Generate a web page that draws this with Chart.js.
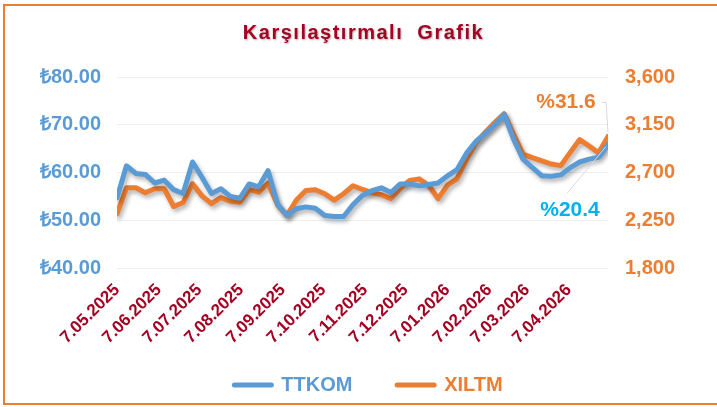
<!DOCTYPE html>
<html>
<head>
<meta charset="utf-8">
<script src="https://cdn.jsdelivr.net/npm/chart.js@4.4.1/dist/chart.umd.min.js"></script>
<style>
  html, body { margin: 0; padding: 0; background: #fff; }
  #wrap { position: relative; width: 717px; height: 407px; overflow: hidden; }
  #frame { position: absolute; left: 3px; top: 4px; width: 730px; height: 401px; border: 2px solid #ed7d31; box-sizing: border-box; }
  #chart { position: absolute; left: 0; top: 0; }
</style>
</head>
<body>
<div id="wrap">
  <div id="frame"></div>
  <canvas id="chart" width="717" height="407"></canvas>
</div>
<script>
const TITLE = "Karşılaştırmalı  Grafik";
const BLUE = "#5b9bd5";
const ORANGE = "#ed7d31";
const DARK_RED = "#a50021";

// weekly closes, 7.05.2025 -> 6.05.2026
const ttkom = [54.7, 61.4, 59.8, 59.6, 57.8, 58.4, 56.4, 55.6, 62.2, 59.0,
  55.6, 56.6, 55.0, 54.6, 57.6, 57.0, 60.4, 53.4, 51.0, 52.4,
  52.8, 52.5, 51.0, 50.8, 50.8, 53.3, 55.2, 56.2, 56.8, 55.8,
  57.6, 57.6, 57.2, 57.5, 57.8, 59.3, 60.6, 64.0, 66.5, 68.2,
  70.0, 72.2, 67.0, 62.8, 61.0, 59.3, 59.2, 59.5, 61.0, 62.2,
  62.8, 63.2, 65.86];
const xiltm = [2310, 2556, 2556, 2510, 2547, 2547, 2380, 2417, 2594, 2480,
  2407, 2463, 2430, 2420, 2540, 2515, 2600, 2395, 2296, 2440,
  2530, 2538, 2500, 2440, 2500, 2575, 2540, 2510, 2490, 2454,
  2550, 2625, 2640, 2580, 2454, 2580, 2640, 2820, 2980, 3080,
  3170, 3255, 3060, 2873, 2840, 2810, 2780, 2765, 2890, 3010,
  2950, 2885, 3040];

// monthly axis labels and their day offset from 7.05.2025
const monthLabels = ["7.05.2025", "7.06.2025", "7.07.2025", "7.08.2025", "7.09.2025", "7.10.2025",
  "7.11.2025", "7.12.2025", "7.01.2026", "7.02.2026", "7.03.2026", "7.04.2026"];
const monthDays = [0, 31, 61, 92, 123, 153, 184, 214, 245, 276, 304, 335];

const leftTicks = [40, 50, 60, 70, 80];
const rightTicks = [1800, 2250, 2700, 3150, 3600];

const toPoints = (arr) => arr.map((v, i) => ({ x: i * 7, y: v }));

function pctChange(arr) {
  return "%" + ((arr[arr.length - 1] / arr[0] - 1) * 100).toFixed(1);
}

// drop shadow under the two lines, like the office chart
const lineShadow = {
  id: "lineShadow",
  beforeDatasetsDraw(chart) {
    const ctx = chart.ctx;
    ctx.save();
    ctx.shadowColor = "rgba(0,0,0,0.3)";
    ctx.shadowBlur = 4;
    ctx.shadowOffsetX = 2;
    ctx.shadowOffsetY = 3;
  },
  afterDatasetsDraw(chart) {
    chart.ctx.restore();
  },
};

// wider spacing + soft shadow on the title text
const titleStyle = {
  id: "titleStyle",
  beforeDraw(chart) {
    const tb = chart.titleBlock;
    if (!tb || tb._styled) return;
    const orig = tb.draw;
    tb.draw = function () {
      const ctx = chart.ctx;
      ctx.save();
      ctx.letterSpacing = "1.5px";
      ctx.shadowColor = "rgba(0,0,0,0.3)";
      ctx.shadowBlur = 2;
      ctx.shadowOffsetX = 1;
      ctx.shadowOffsetY = 1;
      orig.apply(this, arguments);
      ctx.restore();
    };
    tb._styled = true;
  },
};

// legend sits a little right of the plot centre in the original
const legendNudge = {
  id: "legendNudge",
  afterLayout(chart) {
    const lg = chart.legend;
    if (!lg) return;
    lg.left += 6;
    lg.right += 6;
  },
};

// end-of-series change labels with leader lines
const endLabels = {
  id: "endLabels",
  afterDatasetsDraw(chart) {
    const ctx = chart.ctx;
    const blueEnd = chart.getDatasetMeta(0).data[ttkom.length - 1];
    const orangeEnd = chart.getDatasetMeta(1).data[xiltm.length - 1];
    ctx.save();
    ctx.font = "bold 21px 'Liberation Sans', Arial, sans-serif";
    ctx.textBaseline = "middle";
    ctx.textAlign = "center";
    ctx.strokeStyle = "#d9d9d9";
    ctx.lineWidth = 1;

    const ox = orangeEnd.x - 42, oy = orangeEnd.y - 34;
    ctx.beginPath();
    ctx.moveTo(ox + 36, oy);
    ctx.lineTo(orangeEnd.x - 2, oy);
    ctx.lineTo(orangeEnd.x, orangeEnd.y - 4);
    ctx.stroke();
    ctx.fillStyle = ORANGE;
    ctx.fillText(pctChange(xiltm), ox, oy);

    const bx = blueEnd.x - 38, by = blueEnd.y + 66;
    ctx.beginPath();
    ctx.moveTo(bx - 3, by - 17);
    ctx.lineTo(blueEnd.x - 2, blueEnd.y + 2);
    ctx.stroke();
    ctx.fillStyle = "#00b0f0";
    ctx.fillText(pctChange(ttkom), bx, by);
    ctx.restore();
  },
};

const tickFont = { family: "'Liberation Sans', Arial, sans-serif", size: 20, weight: "bold" };

new Chart(document.getElementById("chart"), {
  type: "line",
  data: {
    datasets: [
      {
        label: "TTKOM",
        data: toPoints(ttkom),
        borderColor: BLUE,
        backgroundColor: BLUE,
        borderWidth: 5,
        borderCapStyle: "round",
        borderJoinStyle: "round",
        pointRadius: 0,
        tension: 0,
        yAxisID: "y",
      },
      {
        label: "XILTM",
        data: toPoints(xiltm),
        borderColor: ORANGE,
        backgroundColor: ORANGE,
        borderWidth: 5,
        borderCapStyle: "round",
        borderJoinStyle: "round",
        pointRadius: 0,
        tension: 0,
        yAxisID: "y2",
      },
    ],
  },
  options: {
    responsive: false,
    animation: false,
    layout: { padding: { top: 0, left: 10, right: 0, bottom: 2 } },
    plugins: {
      tooltip: { enabled: false },
      title: {
        display: true,
        text: TITLE,
        color: DARK_RED,
        font: { family: "'Liberation Sans', Arial, sans-serif", size: 20, weight: "bold" },
        padding: { top: 21, bottom: 32 },
      },
      legend: {
        position: "bottom",
        fullSize: false,
        labels: {
          usePointStyle: true,
          pointStyle: "line",
          pointStyleWidth: 37,
          padding: 28,
          font: { family: "'Liberation Sans', Arial, sans-serif", size: 20, weight: "bold" },
          generateLabels(chart) {
            return chart.data.datasets.map((ds, i) => ({
              // trailing spaces widen the gap between the two entries
              text: i === 0 ? ds.label + "\u00a0\u00a0\u00a0" : ds.label,
              fillStyle: ds.borderColor,
              strokeStyle: ds.borderColor,
              fontColor: ds.borderColor,
              lineWidth: 5,
              lineCap: "round",
              pointStyle: "line",
              hidden: false,
              datasetIndex: i,
            }));
          },
        },
      },
    },
    scales: {
      x: {
        type: "linear",
        min: 0,
        max: 364,
        afterBuildTicks(scale) {
          scale.ticks = monthDays.map((d) => ({ value: d }));
        },
        afterFit(scale) {
          scale.height = 79;
        },
        grid: { display: false },
        border: { display: false },
        ticks: {
          autoSkip: false,
          minRotation: 45,
          maxRotation: 45,
          padding: 4,
          color: DARK_RED,
          font: { family: "'Liberation Sans', Arial, sans-serif", size: 17, weight: "bold" },
          callback: (v, i) => monthLabels[i],
        },
      },
      y: {
        position: "left",
        min: leftTicks[0],
        max: leftTicks[leftTicks.length - 1],
        afterBuildTicks(scale) {
          scale.ticks = leftTicks.map((v) => ({ value: v }));
        },
        afterFit(scale) {
          scale.width = 107;
        },
        grid: { color: "#efefef", lineWidth: 1, drawTicks: false },
        border: { display: false },
        ticks: {
          padding: 16,
          color: BLUE,
          font: tickFont,
          callback: (v) => "₺" + v.toFixed(2),
        },
      },
      y2: {
        position: "right",
        min: rightTicks[0],
        max: rightTicks[rightTicks.length - 1],
        afterBuildTicks(scale) {
          scale.ticks = rightTicks.map((v) => ({ value: v }));
        },
        afterFit(scale) {
          scale.width = 109;
        },
        grid: { display: false, drawTicks: false },
        border: { display: false },
        ticks: {
          padding: 17,
          color: ORANGE,
          font: tickFont,
          callback: (v) => v.toLocaleString("en-US"),
        },
      },
    },
  },
  plugins: [lineShadow, titleStyle, legendNudge, endLabels],
});
</script>
</body>
</html>
